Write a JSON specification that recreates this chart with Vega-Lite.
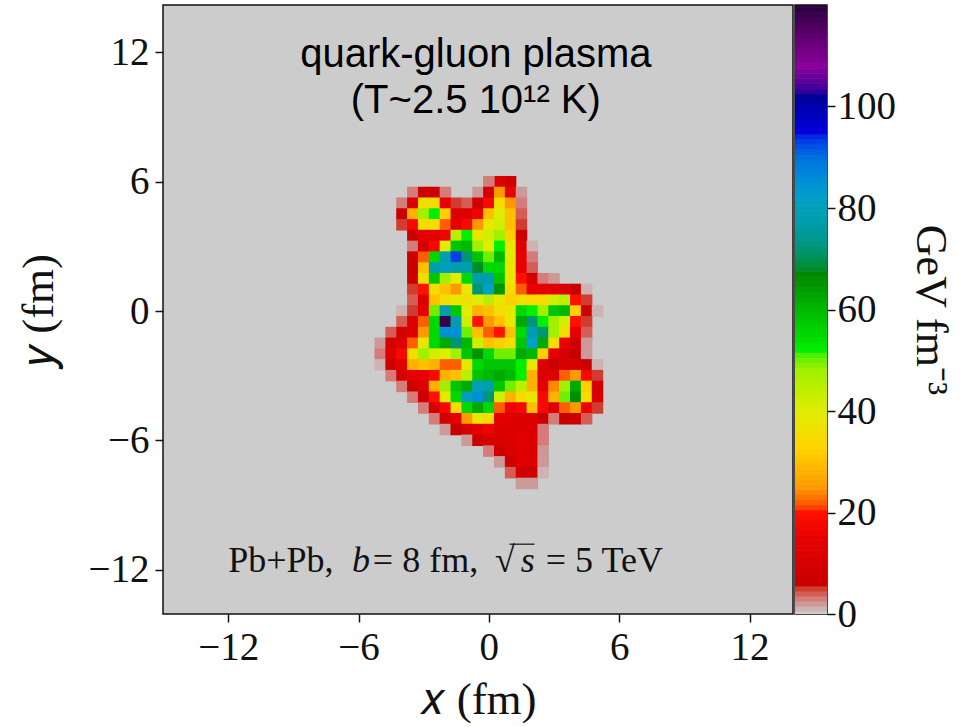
{"$schema":"https://vega.github.io/schema/vega-lite/v6.json","background":"white","padding":{"left":15,"top":4,"right":0,"bottom":0},"config":{"view":{"fill":"#cccccc","stroke":"#111111","strokeWidth":1.5},"axis":{"grid":false,"domain":false,"tickColor":"#111111","tickWidth":1.5,"tickSize":8,"labelFont":"Liberation Serif","labelFontSize":39,"labelColor":"#111111","titleFont":"Liberation Serif","titleFontWeight":"normal","titleColor":"#111111","titleFontSize":45}},
"datasets":{"cells":[
{"x":0.5,"y":6,"v":12},{"x":1,"y":6,"v":8},{"x":0,"y":6,"v":3},
{"x":-3.5,"y":5.5,"v":3},{"x":-3,"y":5.5,"v":8},{"x":-2.5,"y":5.5,"v":8},{"x":-2,"y":5.5,"v":3},{"x":-0.5,"y":5.5,"v":2},{"x":0,"y":5.5,"v":10},{"x":0.5,"y":5.5,"v":25},{"x":1,"y":5.5,"v":15},{"x":1.5,"y":5.5,"v":2},
{"x":-4,"y":5,"v":3},{"x":-3.5,"y":5,"v":12},{"x":-3,"y":5,"v":35},{"x":-2.5,"y":5,"v":35},{"x":-2,"y":5,"v":15},{"x":-1.5,"y":5,"v":5},{"x":-1,"y":5,"v":4},{"x":-0.5,"y":5,"v":8},{"x":0,"y":5,"v":18},{"x":0.5,"y":5,"v":35},{"x":1,"y":5,"v":25},{"x":1.5,"y":5,"v":3},
{"x":-4,"y":4.5,"v":6},{"x":-3.5,"y":4.5,"v":28},{"x":-3,"y":4.5,"v":48},{"x":-2.5,"y":4.5,"v":52},{"x":-2,"y":4.5,"v":32},{"x":-1.5,"y":4.5,"v":12},{"x":-1,"y":4.5,"v":12},{"x":-0.5,"y":4.5,"v":16},{"x":0,"y":4.5,"v":30},{"x":0.5,"y":4.5,"v":40},{"x":1,"y":4.5,"v":30},{"x":1.5,"y":4.5,"v":4},
{"x":-4,"y":4,"v":5},{"x":-3.5,"y":4,"v":18},{"x":-3,"y":4,"v":35},{"x":-2.5,"y":4,"v":35},{"x":-2,"y":4,"v":22},{"x":-1.5,"y":4,"v":14},{"x":-1,"y":4,"v":18},{"x":-0.5,"y":4,"v":25},{"x":0,"y":4,"v":38},{"x":0.5,"y":4,"v":42},{"x":1,"y":4,"v":30},{"x":1.5,"y":4,"v":5},
{"x":-3.5,"y":3.5,"v":7},{"x":-3,"y":3.5,"v":14},{"x":-2.5,"y":3.5,"v":14},{"x":-2,"y":3.5,"v":16},{"x":-1.5,"y":3.5,"v":45},{"x":-1,"y":3.5,"v":52},{"x":-0.5,"y":3.5,"v":38},{"x":0,"y":3.5,"v":42},{"x":0.5,"y":3.5,"v":48},{"x":1,"y":3.5,"v":32},{"x":1.5,"y":3.5,"v":8},
{"x":-3.5,"y":3,"v":3},{"x":-3,"y":3,"v":10},{"x":-2.5,"y":3,"v":18},{"x":-2,"y":3,"v":40},{"x":-1.5,"y":3,"v":58},{"x":-1,"y":3,"v":60},{"x":-0.5,"y":3,"v":48},{"x":0,"y":3,"v":40},{"x":0.5,"y":3,"v":52},{"x":1,"y":3,"v":38},{"x":1.5,"y":3,"v":12},{"x":2,"y":3,"v":1},
{"x":-3.5,"y":2.5,"v":8},{"x":-3,"y":2.5,"v":22},{"x":-2.5,"y":2.5,"v":55},{"x":-2,"y":2.5,"v":78},{"x":-1.5,"y":2.5,"v":93},{"x":-1,"y":2.5,"v":72},{"x":-0.5,"y":2.5,"v":58},{"x":0,"y":2.5,"v":50},{"x":0.5,"y":2.5,"v":60},{"x":1,"y":2.5,"v":40},{"x":1.5,"y":2.5,"v":15},{"x":2,"y":2.5,"v":3},
{"x":-3.5,"y":2,"v":6},{"x":-3,"y":2,"v":30},{"x":-2.5,"y":2,"v":78},{"x":-2,"y":2,"v":80},{"x":-1.5,"y":2,"v":78},{"x":-1,"y":2,"v":78},{"x":-0.5,"y":2,"v":68},{"x":0,"y":2,"v":55},{"x":0.5,"y":2,"v":55},{"x":1,"y":2,"v":38},{"x":1.5,"y":2,"v":15},{"x":2,"y":2,"v":4},
{"x":-3.5,"y":1.5,"v":8},{"x":-3,"y":1.5,"v":35},{"x":-2.5,"y":1.5,"v":58},{"x":-2,"y":1.5,"v":48},{"x":-1.5,"y":1.5,"v":40},{"x":-1,"y":1.5,"v":55},{"x":-0.5,"y":1.5,"v":78},{"x":0,"y":1.5,"v":78},{"x":0.5,"y":1.5,"v":58},{"x":1,"y":1.5,"v":38},{"x":1.5,"y":1.5,"v":20},{"x":2,"y":1.5,"v":10},{"x":2.5,"y":1.5,"v":3},{"x":3,"y":1.5,"v":2},
{"x":-3.5,"y":1,"v":5},{"x":-3,"y":1,"v":20},{"x":-2.5,"y":1,"v":35},{"x":-2,"y":1,"v":30},{"x":-1.5,"y":1,"v":25},{"x":-1,"y":1,"v":38},{"x":-0.5,"y":1,"v":72},{"x":0,"y":1,"v":82},{"x":0.5,"y":1,"v":65},{"x":1,"y":1,"v":35},{"x":1.5,"y":1,"v":22},{"x":2,"y":1,"v":15},{"x":2.5,"y":1,"v":14},{"x":3,"y":1,"v":14},{"x":3.5,"y":1,"v":12},{"x":4,"y":1,"v":6},{"x":4.5,"y":1,"v":1},
{"x":-3.5,"y":0.5,"v":4},{"x":-3,"y":0.5,"v":12},{"x":-2.5,"y":0.5,"v":30},{"x":-2,"y":0.5,"v":35},{"x":-1.5,"y":0.5,"v":38},{"x":-1,"y":0.5,"v":36},{"x":-0.5,"y":0.5,"v":40},{"x":0,"y":0.5,"v":45},{"x":0.5,"y":0.5,"v":38},{"x":1,"y":0.5,"v":32},{"x":1.5,"y":0.5,"v":35},{"x":2,"y":0.5,"v":35},{"x":2.5,"y":0.5,"v":35},{"x":3,"y":0.5,"v":42},{"x":3.5,"y":0.5,"v":45},{"x":4,"y":0.5,"v":20},{"x":4.5,"y":0.5,"v":5},
{"x":-4,"y":0,"v":1},{"x":-3.5,"y":0,"v":5},{"x":-3,"y":0,"v":15},{"x":-2.5,"y":0,"v":50},{"x":-2,"y":0,"v":78},{"x":-1.5,"y":0,"v":58},{"x":-1,"y":0,"v":40},{"x":-0.5,"y":0,"v":28},{"x":0,"y":0,"v":30},{"x":0.5,"y":0,"v":35},{"x":1,"y":0,"v":38},{"x":1.5,"y":0,"v":55},{"x":2,"y":0,"v":52},{"x":2.5,"y":0,"v":48},{"x":3,"y":0,"v":58},{"x":3.5,"y":0,"v":60},{"x":4,"y":0,"v":32},{"x":4.5,"y":0,"v":8},{"x":5,"y":0,"v":1},
{"x":-4,"y":-0.5,"v":4},{"x":-3.5,"y":-0.5,"v":12},{"x":-3,"y":-0.5,"v":22},{"x":-2.5,"y":-0.5,"v":55},{"x":-2,"y":-0.5,"v":118},{"x":-1.5,"y":-0.5,"v":78},{"x":-1,"y":-0.5,"v":42},{"x":-0.5,"y":-0.5,"v":20},{"x":0,"y":-0.5,"v":25},{"x":0.5,"y":-0.5,"v":30},{"x":1,"y":-0.5,"v":38},{"x":1.5,"y":-0.5,"v":62},{"x":2,"y":-0.5,"v":72},{"x":2.5,"y":-0.5,"v":52},{"x":3,"y":-0.5,"v":48},{"x":3.5,"y":-0.5,"v":42},{"x":4,"y":-0.5,"v":20},{"x":4.5,"y":-0.5,"v":5},
{"x":-4.5,"y":-1,"v":4},{"x":-4,"y":-1,"v":10},{"x":-3.5,"y":-1,"v":12},{"x":-3,"y":-1,"v":25},{"x":-2.5,"y":-1,"v":55},{"x":-2,"y":-1,"v":85},{"x":-1.5,"y":-1,"v":85},{"x":-1,"y":-1,"v":50},{"x":-0.5,"y":-1,"v":30},{"x":0,"y":-1,"v":22},{"x":0.5,"y":-1,"v":20},{"x":1,"y":-1,"v":30},{"x":1.5,"y":-1,"v":55},{"x":2,"y":-1,"v":78},{"x":2.5,"y":-1,"v":72},{"x":3,"y":-1,"v":48},{"x":3.5,"y":-1,"v":35},{"x":4,"y":-1,"v":15},{"x":4.5,"y":-1,"v":4},
{"x":-5,"y":-1.5,"v":2},{"x":-4.5,"y":-1.5,"v":10},{"x":-4,"y":-1.5,"v":13},{"x":-3.5,"y":-1.5,"v":22},{"x":-3,"y":-1.5,"v":38},{"x":-2.5,"y":-1.5,"v":55},{"x":-2,"y":-1.5,"v":62},{"x":-1.5,"y":-1.5,"v":72},{"x":-1,"y":-1.5,"v":60},{"x":-0.5,"y":-1.5,"v":42},{"x":0,"y":-1.5,"v":30},{"x":0.5,"y":-1.5,"v":32},{"x":1,"y":-1.5,"v":35},{"x":1.5,"y":-1.5,"v":58},{"x":2,"y":-1.5,"v":82},{"x":2.5,"y":-1.5,"v":62},{"x":3,"y":-1.5,"v":35},{"x":3.5,"y":-1.5,"v":15},{"x":4,"y":-1.5,"v":8},{"x":4.5,"y":-1.5,"v":2},
{"x":-5,"y":-2,"v":3},{"x":-4.5,"y":-2,"v":12},{"x":-4,"y":-2,"v":18},{"x":-3.5,"y":-2,"v":35},{"x":-3,"y":-2,"v":48},{"x":-2.5,"y":-2,"v":42},{"x":-2,"y":-2,"v":40},{"x":-1.5,"y":-2,"v":48},{"x":-1,"y":-2,"v":58},{"x":-0.5,"y":-2,"v":65},{"x":0,"y":-2,"v":55},{"x":0.5,"y":-2,"v":50},{"x":1,"y":-2,"v":50},{"x":1.5,"y":-2,"v":62},{"x":2,"y":-2,"v":60},{"x":2.5,"y":-2,"v":32},{"x":3,"y":-2,"v":14},{"x":3.5,"y":-2,"v":10},{"x":4,"y":-2,"v":6},{"x":4.5,"y":-2,"v":2},
{"x":-5,"y":-2.5,"v":1},{"x":-4.5,"y":-2.5,"v":8},{"x":-4,"y":-2.5,"v":14},{"x":-3.5,"y":-2.5,"v":28},{"x":-3,"y":-2.5,"v":30},{"x":-2.5,"y":-2.5,"v":28},{"x":-2,"y":-2.5,"v":22},{"x":-1.5,"y":-2.5,"v":22},{"x":-1,"y":-2.5,"v":38},{"x":-0.5,"y":-2.5,"v":55},{"x":0,"y":-2.5,"v":58},{"x":0.5,"y":-2.5,"v":58},{"x":1,"y":-2.5,"v":58},{"x":1.5,"y":-2.5,"v":52},{"x":2,"y":-2.5,"v":38},{"x":2.5,"y":-2.5,"v":12},{"x":3,"y":-2.5,"v":6},{"x":3.5,"y":-2.5,"v":10},{"x":4,"y":-2.5,"v":10},{"x":4.5,"y":-2.5,"v":6},{"x":5,"y":-2.5,"v":1},
{"x":-4.5,"y":-3,"v":3},{"x":-4,"y":-3,"v":10},{"x":-3.5,"y":-3,"v":14},{"x":-3,"y":-3,"v":14},{"x":-2.5,"y":-3,"v":18},{"x":-2,"y":-3,"v":28},{"x":-1.5,"y":-3,"v":30},{"x":-1,"y":-3,"v":45},{"x":-0.5,"y":-3,"v":58},{"x":0,"y":-3,"v":60},{"x":0.5,"y":-3,"v":62},{"x":1,"y":-3,"v":60},{"x":1.5,"y":-3,"v":52},{"x":2,"y":-3,"v":28},{"x":2.5,"y":-3,"v":12},{"x":3,"y":-3,"v":12},{"x":3.5,"y":-3,"v":22},{"x":4,"y":-3,"v":25},{"x":4.5,"y":-3,"v":18},{"x":5,"y":-3,"v":5},
{"x":-4,"y":-3.5,"v":3},{"x":-3.5,"y":-3.5,"v":8},{"x":-3,"y":-3.5,"v":12},{"x":-2.5,"y":-3.5,"v":28},{"x":-2,"y":-3.5,"v":48},{"x":-1.5,"y":-3.5,"v":58},{"x":-1,"y":-3.5,"v":62},{"x":-0.5,"y":-3.5,"v":80},{"x":0,"y":-3.5,"v":78},{"x":0.5,"y":-3.5,"v":58},{"x":1,"y":-3.5,"v":50},{"x":1.5,"y":-3.5,"v":45},{"x":2,"y":-3.5,"v":28},{"x":2.5,"y":-3.5,"v":14},{"x":3,"y":-3.5,"v":24},{"x":3.5,"y":-3.5,"v":48},{"x":4,"y":-3.5,"v":62},{"x":4.5,"y":-3.5,"v":32},{"x":5,"y":-3.5,"v":9},
{"x":-3.5,"y":-4,"v":3},{"x":-3,"y":-4,"v":8},{"x":-2.5,"y":-4,"v":20},{"x":-2,"y":-4,"v":38},{"x":-1.5,"y":-4,"v":55},{"x":-1,"y":-4,"v":80},{"x":-0.5,"y":-4,"v":85},{"x":0,"y":-4,"v":72},{"x":0.5,"y":-4,"v":42},{"x":1,"y":-4,"v":28},{"x":1.5,"y":-4,"v":35},{"x":2,"y":-4,"v":38},{"x":2.5,"y":-4,"v":18},{"x":3,"y":-4,"v":28},{"x":3.5,"y":-4,"v":50},{"x":4,"y":-4,"v":66},{"x":4.5,"y":-4,"v":35},{"x":5,"y":-4,"v":10},
{"x":-3,"y":-4.5,"v":3},{"x":-2.5,"y":-4.5,"v":10},{"x":-2,"y":-4.5,"v":18},{"x":-1.5,"y":-4.5,"v":35},{"x":-1,"y":-4.5,"v":55},{"x":-0.5,"y":-4.5,"v":62},{"x":0,"y":-4.5,"v":55},{"x":0.5,"y":-4.5,"v":22},{"x":1,"y":-4.5,"v":16},{"x":1.5,"y":-4.5,"v":18},{"x":2,"y":-4.5,"v":30},{"x":2.5,"y":-4.5,"v":18},{"x":3,"y":-4.5,"v":12},{"x":3.5,"y":-4.5,"v":22},{"x":4,"y":-4.5,"v":25},{"x":4.5,"y":-4.5,"v":16},{"x":5,"y":-4.5,"v":5},
{"x":-2.5,"y":-5,"v":3},{"x":-2,"y":-5,"v":9},{"x":-1.5,"y":-5,"v":14},{"x":-1,"y":-5,"v":25},{"x":-0.5,"y":-5,"v":38},{"x":0,"y":-5,"v":35},{"x":0.5,"y":-5,"v":14},{"x":1,"y":-5,"v":12},{"x":1.5,"y":-5,"v":12},{"x":2,"y":-5,"v":12},{"x":2.5,"y":-5,"v":6},{"x":3,"y":-5,"v":3},{"x":3.5,"y":-5,"v":6},{"x":4,"y":-5,"v":7},{"x":4.5,"y":-5,"v":4},
{"x":-2,"y":-5.5,"v":2},{"x":-1.5,"y":-5.5,"v":6},{"x":-1,"y":-5.5,"v":10},{"x":-0.5,"y":-5.5,"v":14},{"x":0,"y":-5.5,"v":16},{"x":0.5,"y":-5.5,"v":12},{"x":1,"y":-5.5,"v":12},{"x":1.5,"y":-5.5,"v":13},{"x":2,"y":-5.5,"v":12},{"x":2.5,"y":-5.5,"v":3},
{"x":-1,"y":-6,"v":2},{"x":-0.5,"y":-6,"v":6},{"x":0,"y":-6,"v":10},{"x":0.5,"y":-6,"v":11},{"x":1,"y":-6,"v":12},{"x":1.5,"y":-6,"v":14},{"x":2,"y":-6,"v":12},{"x":2.5,"y":-6,"v":3},
{"x":0,"y":-6.5,"v":3},{"x":0.5,"y":-6.5,"v":8},{"x":1,"y":-6.5,"v":11},{"x":1.5,"y":-6.5,"v":13},{"x":2,"y":-6.5,"v":11},{"x":2.5,"y":-6.5,"v":2},
{"x":0.5,"y":-7,"v":2},{"x":1,"y":-7,"v":8},{"x":1.5,"y":-7,"v":13},{"x":2,"y":-7,"v":12},{"x":2.5,"y":-7,"v":2},
{"x":1,"y":-7.5,"v":4},{"x":1.5,"y":-7.5,"v":9},{"x":2,"y":-7.5,"v":8},{"x":2.5,"y":-7.5,"v":1},
{"x":1.5,"y":-8,"v":2},{"x":2,"y":-8,"v":2}
]},
"hconcat":[
{"width":630,"height":609,"layer":[
{"data":{"name":"cells"},"mark":{"type":"rect","width":11.5,"height":11.5},"encoding":{
"x":{"field":"x","type":"quantitative","scale":{"domain":[-15,14],"nice":false,"zero":false},"axis":{"values":[-12,-6,0,6,12],"title":"𝑥 (fm)","labelPadding":6,"titlePadding":10}},
"y":{"field":"y","type":"quantitative","scale":{"domain":[-14.06,14.2],"nice":false,"zero":false},"axis":{"values":[-12,-6,0,6,12],"title":"𝑦 (fm)","labelPadding":6,"titlePadding":27}},
"color":{"field":"v","type":"quantitative","legend":null,"scale":{"domain":[0,2,6,15,20,25,32,40,48,52,60,67,75,82,90,95,102,108,113,120],"range":["#cccccc","#cc9999","#c80000","#e80000","#ff1000","#ff9900","#ffd000","#dfee00","#a0f000","#00ee00","#00b800","#008800","#009999","#00a0c8","#0070dd","#0000dd","#000099","#88009a","#660077","#000000"]}}}},
{"data":{"values":[{"x":-0.6,"y":11.9,"t":"quark-gluon plasma"},{"x":-0.6,"y":9.75,"t":"(T~2.5 10¹² K)"}]},"mark":{"type":"text","font":"Liberation Sans","fontSize":40,"color":"#000000","align":"center","baseline":"middle"},"encoding":{"x":{"field":"x","type":"quantitative"},"y":{"field":"y","type":"quantitative"},"text":{"field":"t"}}},
{"data":{"values":[{"x":-12,"y":-11.6,"t":"Pb+Pb,"},{"x":-5.34,"y":-11.6,"t":"= 8 fm,"},{"x":0.28,"y":-11.6,"t":"√"},{"x":2.62,"y":-11.6,"t":"= 5 TeV"}]},"mark":{"type":"text","font":"Liberation Serif","fontSize":36,"color":"#111111","align":"left","baseline":"middle"},"encoding":{"x":{"field":"x","type":"quantitative"},"y":{"field":"y","type":"quantitative"},"text":{"field":"t"}}},
{"data":{"values":[{"x":-6.3,"y":-11.6,"t":"b"},{"x":1.47,"y":-11.6,"t":"s"}]},"mark":{"type":"text","font":"Liberation Serif","fontStyle":"italic","fontSize":36,"color":"#111111","align":"left","baseline":"middle"},"encoding":{"x":{"field":"x","type":"quantitative"},"y":{"field":"y","type":"quantitative"},"text":{"field":"t"}}},
{"data":{"values":[{"x":0.95,"x2":2.1,"y":-10.82}]},"mark":{"type":"rule","color":"#111111","strokeWidth":1.2},"encoding":{"x":{"field":"x","type":"quantitative"},"x2":{"field":"x2"},"y":{"field":"y","type":"quantitative"}}}
]},
{"width":32,"height":609,"data":{"values":[{"c":0},{"c":1},{"c":2},{"c":3},{"c":4},{"c":5},{"c":6},{"c":7},{"c":8},{"c":9},{"c":10},{"c":11},{"c":12},{"c":13},{"c":14},{"c":15},{"c":16},{"c":17},{"c":18},{"c":19},{"c":20},{"c":21},{"c":22},{"c":23},{"c":24},{"c":25},{"c":26},{"c":27},{"c":28},{"c":29},{"c":30},{"c":31},{"c":32},{"c":33},{"c":34},{"c":35},{"c":36},{"c":37},{"c":38},{"c":39},{"c":40},{"c":41},{"c":42},{"c":43},{"c":44},{"c":45},{"c":46},{"c":47},{"c":48},{"c":49},{"c":50},{"c":51},{"c":52},{"c":53},{"c":54},{"c":55},{"c":56},{"c":57},{"c":58},{"c":59},{"c":60},{"c":61},{"c":62},{"c":63},{"c":64},{"c":65},{"c":66},{"c":67},{"c":68},{"c":69},{"c":70},{"c":71},{"c":72},{"c":73},{"c":74},{"c":75},{"c":76},{"c":77},{"c":78},{"c":79},{"c":80},{"c":81},{"c":82},{"c":83},{"c":84},{"c":85},{"c":86},{"c":87},{"c":88},{"c":89},{"c":90},{"c":91},{"c":92},{"c":93},{"c":94},{"c":95},{"c":96},{"c":97},{"c":98},{"c":99},{"c":100},{"c":101},{"c":102},{"c":103},{"c":104},{"c":105},{"c":106},{"c":107},{"c":108},{"c":109},{"c":110},{"c":111},{"c":112},{"c":113},{"c":114},{"c":115},{"c":116},{"c":117},{"c":118},{"c":119},{"c":120}]},
"mark":{"type":"rect","height":5.6,"clip":true},"encoding":{
"x":{"datum":0,"type":"quantitative","scale":{"domain":[0,1]},"axis":null},"x2":{"datum":1},
"y":{"field":"c","type":"quantitative","scale":{"domain":[0,120],"nice":false},"axis":{"orient":"right","values":[0,20,40,60,80,100],"title":"GeV fm⁻³","titleAngle":90,"titleFontSize":44,"titleBaseline":"middle","labelPadding":2,"titlePadding":34,"titleAnchor":"middle"}},
"color":{"field":"c","type":"quantitative","legend":null,"scale":{"domain":[0,2,6,15,20,25,32,40,48,52,60,67,75,82,90,95,102,108,113,120],"range":["#cccccc","#cc9999","#c80000","#e80000","#ff1000","#ff9900","#ffd000","#dfee00","#a0f000","#00ee00","#00b800","#008800","#009999","#00a0c8","#0070dd","#0000dd","#000099","#88009a","#660077","#000000"]}}}}
],"spacing":0}
